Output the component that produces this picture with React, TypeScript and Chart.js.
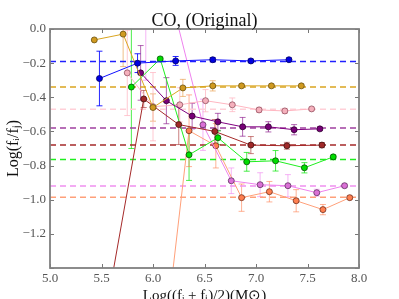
import React, { useEffect, useRef } from "react";
import { Chart, registerables } from "chart.js";
Chart.register(...registerables);

const titleText = "CO, (Original)";
const xLabel = "Log((fᵢ + fⱼ)/2)(M⊙)";
const yLabel = "Log(fᵢ/fⱼ)";

const xTicks = [5.0, 5.5, 6.0, 6.5, 7.0, 7.5, 8.0];
const yTicks = [0.0, -0.2, -0.4, -0.6, -0.8, -1.0, -1.2, -1.4];

// Blue
const blueX = [5.48, 5.85, 6.22, 6.58, 6.95, 7.32];
const blueY = [-0.29, -0.2, -0.187, -0.18, -0.187, -0.18];
const blueErr = [0.16, 0.055, 0.026, 0.012, 0.01, 0.01];
const blueRef = -0.19;

// Goldenrod
const goldX = [5.43, 5.71, 6.0, 6.29, 6.58, 6.86, 7.15, 7.44];
const goldY = [-0.064, -0.03, -0.46, -0.345, -0.333, -0.333, -0.333, -0.333];
const goldErr = [0, 0.19, 0.08, 0.05, 0.03, 0.01, 0.01, 0.01];
const goldRef = -0.34;

// Pink
const pinkX = [5.75, 6.0, 6.26, 6.51, 6.77, 7.03, 7.28, 7.54];
const pinkY = [-0.257, -0.455, -0.444, -0.42, -0.444, -0.474, -0.48, -0.468];
const pinkErr = [0.25, 0.2, 0.1, 0.065, 0.04, 0.015, 0.015, 0.01];
const pinkRef = -0.47;

// Purple
const purpX = [5.88, 6.13, 6.38, 6.63, 6.87, 7.12, 7.37, 7.62];
const purpY = [-0.257, -0.42, -0.51, -0.544, -0.573, -0.573, -0.59, -0.585];
const purpErr = [0.16, 0.135, 0.075, 0.05, 0.055, 0.03, 0.03, 0.01];
const purpRef = -0.58;

// Dark red
const redX = [5.56, 5.91, 6.25, 6.6, 6.95, 7.3, 7.64];
const redY = [-1.6, -0.41, -0.56, -0.6, -0.68, -0.684, -0.68];
const redErr = [0, 0.05, 0.117, 0.07, 0.05, 0.02, 0.015];
const redRef = -0.68;

// Green
const greenX = [5.79, 6.07, 6.35, 6.63, 6.91, 7.19, 7.47, 7.75];
const greenY = [-0.34, -0.175, -0.737, -0.637, -0.778, -0.772, -0.813, -0.749];
const greenErr = [0.36, 0.01, 0.15, 0.04, 0.055, 0.06, 0.03, 0.01];
const greenRef = -0.765;

// Violet
const violX = [5.93, 6.21, 6.485, 6.76, 7.04, 7.31, 7.59, 7.86];
const violY = [0.35, 0.1, -0.561, -0.889, -0.912, -0.918, -0.959, -0.918];
const violErr = [0.65, 0, 0.15, 0.075, 0.07, 0.065, 0.02, 0.01];
const violRef = -0.92;

// Salmon
const salX = [6.09, 6.35, 6.61, 6.86, 7.13, 7.39, 7.65, 7.91];
const salY = [-1.95, -0.596, -0.684, -0.988, -0.953, -1.006, -1.058, -0.988];
const salErr = [0, 0.21, 0.13, 0.08, 0.06, 0.065, 0.03, 0.01];
const salRef = -0.985;

function series(xs: number[], ys: number[], errs: number[], line: string, marker: string, errColor: string, edge: string) {
  return {
    data: xs.map((x, i) => ({ x, y: ys[i] })),
    errors: errs,
    errColor,
    showLine: true,
    borderColor: line,
    borderWidth: 1,
    backgroundColor: marker,
    pointBackgroundColor: marker,
    pointBorderColor: edge,
    pointBorderWidth: 0.8,
    pointRadius: 3,
    order: 0,
    clip: 0,
  };
}

function refLine(y: number, color: string) {
  return {
    data: [{ x: 5, y }, { x: 8, y }],
    showLine: true,
    borderColor: color,
    borderWidth: 1.5,
    borderDash: [6, 4],
    pointRadius: 0,
    order: 10,
    clip: 0,
  };
}

const errPlugin = {
  id: "errbars",
  beforeDatasetsDraw(chart: any) {
    const { ctx, chartArea: ca, scales } = chart;
    const xs = scales.x, ys = scales.y;
    ctx.save();
    ctx.beginPath();
    ctx.rect(ca.left, ca.top, ca.right - ca.left, ca.bottom - ca.top);
    ctx.clip();
    chart.data.datasets.forEach((ds: any) => {
      if (!ds.errors) return;
      ctx.strokeStyle = ds.errColor;
      ctx.lineWidth = 1;
      ds.data.forEach((p: any, i: number) => {
        const e = ds.errors[i];
        if (!e) return;
        const px = xs.getPixelForValue(p.x);
        const y1 = ys.getPixelForValue(p.y + e);
        const y2 = ys.getPixelForValue(p.y - e);
        ctx.beginPath();
        ctx.moveTo(px, y1); ctx.lineTo(px, y2);
        ctx.moveTo(px - 3, y1); ctx.lineTo(px + 3, y1);
        ctx.moveTo(px - 3, y2); ctx.lineTo(px + 3, y2);
        ctx.stroke();
      });
    });
    ctx.restore();
  },
};

const framePlugin = {
  id: "frame",
  afterDraw(chart: any) {
    const { ctx, chartArea: ca, scales } = chart;
    const xs = scales.x, ys = scales.y;
    ctx.save();
    ctx.strokeStyle = "#777";
    ctx.lineWidth = 1;
    ctx.beginPath();
    xTicks.forEach((t) => {
      const px = Math.round(xs.getPixelForValue(t)) + 0.5;
      ctx.moveTo(px, ca.bottom); ctx.lineTo(px, ca.bottom - 4);
      ctx.moveTo(px, ca.top); ctx.lineTo(px, ca.top + 4);
    });
    yTicks.forEach((t) => {
      const py = Math.round(ys.getPixelForValue(t)) + 0.5;
      ctx.moveTo(ca.left, py); ctx.lineTo(ca.left + 4, py);
      ctx.moveTo(ca.right, py); ctx.lineTo(ca.right - 4, py);
    });
    ctx.stroke();
    ctx.lineWidth = 1.8;
    ctx.strokeStyle = "#808080";
    ctx.strokeRect(ca.left, ca.top, ca.right - ca.left, ca.bottom - ca.top);

    ctx.fillStyle = "#111";
    ctx.font = "18px 'Liberation Serif'";
    ctx.textAlign = "center";
    ctx.textBaseline = "alphabetic";
    ctx.fillText(titleText, (ca.left + ca.right) / 2, 26);

    ctx.font = "15px 'Liberation Serif'";
    ctx.fillText(xLabel, (ca.left + ca.right) / 2, 300);

    ctx.save();
    ctx.translate(18, (ca.top + ca.bottom) / 2);
    ctx.rotate(-Math.PI / 2);
    ctx.font = "16px 'Liberation Serif'";
    ctx.fillText(yLabel, 0, 0);
    ctx.restore();
    ctx.restore();
  },
};

function fmtY(v: number) {
  if (Math.abs(v + 1.4) < 1e-6) return "";
  if (Math.abs(v) < 1e-9) return "0.0";
  return v.toFixed(1).replace("-", "\u2212");
}

export default function App() {
  const ref = useRef<HTMLCanvasElement | null>(null);
  useEffect(() => {
    document.body.style.margin = "0";
    const canvas = ref.current;
    if (!canvas) return;
    const tickFont = { family: "'Liberation Serif'", size: 13 };
    const chart = new Chart(canvas, {
      type: "scatter",
      data: {
        datasets: [
          series(blueX, blueY, blueErr, "#1010ff", "#0000e0", "rgba(0,0,255,0.85)", "#000060"),
          series(goldX, goldY, goldErr, "#daa520", "#d09a20", "rgba(230,150,60,0.6)", "#6a5010"),
          series(purpX, purpY, purpErr, "#800080", "#780078", "rgba(128,0,128,0.6)", "#300030"),
          series(redX, redY, redErr, "#a52a2a", "#a02828", "rgba(165,42,42,0.6)", "#401010"),
          series(greenX, greenY, greenErr, "#20ee20", "#00dd00", "rgba(0,230,0,0.7)", "#005000"),
          series(pinkX, pinkY, pinkErr, "#ffb6c1", "#f5b0bc", "rgba(255,182,193,0.75)", "#905060"),
          series(violX, violY, violErr, "#ee82ee", "#da70d6", "rgba(238,130,238,0.6)", "#603060"),
          series(salX, salY, salErr, "#ffa07a", "#ff7f50", "rgba(255,127,80,0.6)", "#703020"),
          refLine(blueRef, "#2020ff"),
          refLine(goldRef, "#daa520"),
          refLine(pinkRef, "#ffd0d8"),
          refLine(purpRef, "#a040a0"),
          refLine(redRef, "#a52a2a"),
          refLine(greenRef, "#20ee20"),
          refLine(violRef, "#f090f0"),
          refLine(salRef, "#ffa07a"),
        ] as any,
      },
      options: {
        responsive: false,
        animation: false,
        layout: { padding: { left: 0, top: 29, right: 40, bottom: 0 } },
        plugins: { legend: { display: false }, tooltip: { enabled: false }, title: { display: false } },
        scales: {
          x: {
            type: "linear",
            min: 5,
            max: 8,
            afterFit: (s: any) => { s.height = 31; },
            afterBuildTicks: (s: any) => { s.ticks = xTicks.map((v) => ({ value: v })); },
            ticks: { color: "#555", font: tickFont, padding: 3, maxRotation: 0, callback: (v: any) => Number(v).toFixed(1) },
            grid: { display: false, drawTicks: false },
            border: { display: false },
          },
          y: {
            type: "linear",
            min: -1.4,
            max: 0,
            afterFit: (s: any) => { s.width = 50; },
            afterBuildTicks: (s: any) => { s.ticks = yTicks.map((v) => ({ value: v })); },
            ticks: { color: "#555", font: tickFont, padding: 4, callback: (v: any) => fmtY(Number(v)) },
            grid: { display: false, drawTicks: false },
            border: { display: false },
          },
        },
      } as any,
      plugins: [errPlugin, framePlugin],
    });
    return () => chart.destroy();
  }, []);
  return (
    <div style={{ width: 399, height: 299 }}>
      <canvas ref={ref} width={399} height={299} />
    </div>
  );
}
